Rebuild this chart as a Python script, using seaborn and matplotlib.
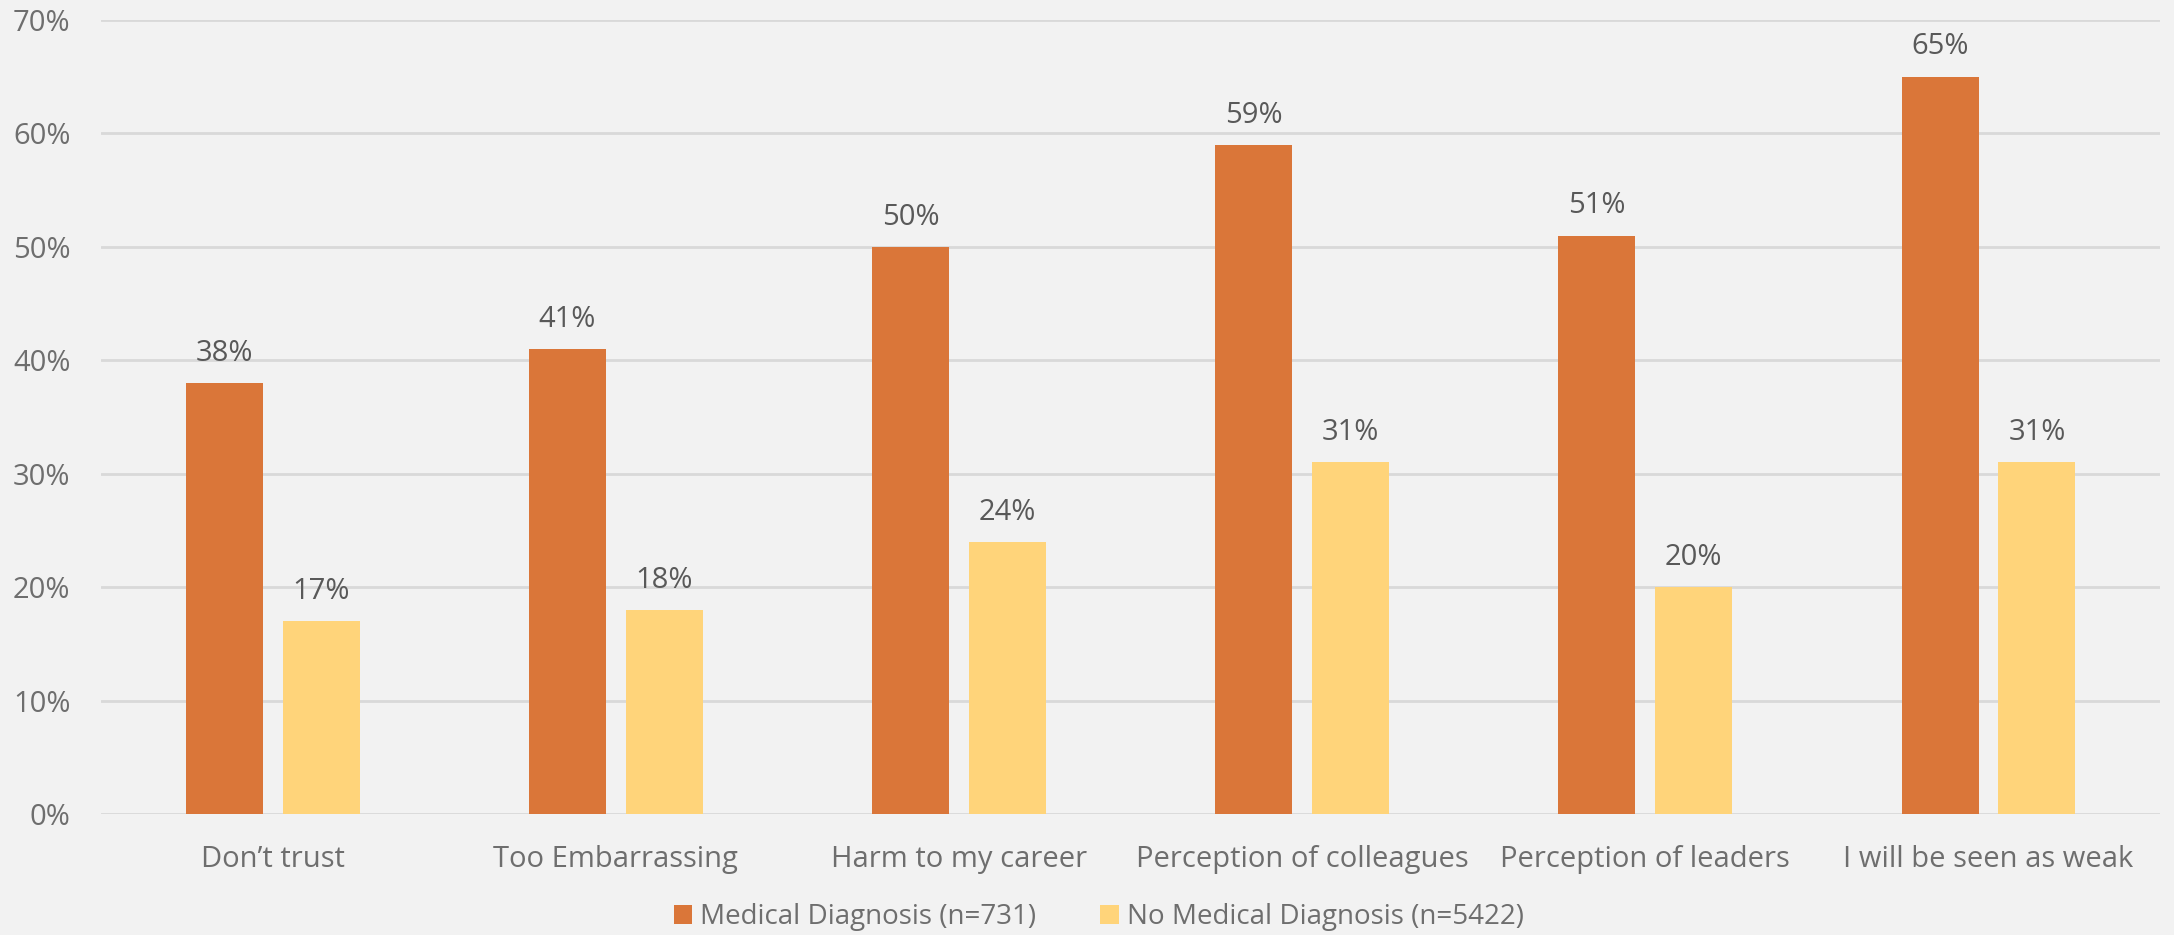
import matplotlib
matplotlib.use("Agg")
import matplotlib.pyplot as plt
import seaborn as sns
import pandas as pd
from matplotlib.ticker import MultipleLocator, FuncFormatter

categories = ["Don\u2019t trust", "Too Embarrassing", "Harm to my career",
              "Perception of colleagues", "Perception of leaders", "I will be seen as weak"]
medical = [38, 41, 50, 59, 51, 65]
no_medical = [17, 18, 24, 31, 20, 31]
series_names = ["Medical Diagnosis (n=731)", "No Medical Diagnosis (n=5422)"]
colors = ["#DA7639", "#FFD47A"]

df = pd.DataFrame({
    "category": categories * 2,
    "value": medical + no_medical,
    "series": [series_names[0]] * len(categories) + [series_names[1]] * len(categories),
})

sns.set_theme(style="white")
plt.rcParams["font.family"] = ["Open Sans", "DejaVu Sans"]

fig = plt.figure(figsize=(21.74, 9.35), dpi=100, facecolor="#F2F2F2")
ax = fig.add_axes([0.0465, 0.1294, 0.9471, 0.8492])
ax.set_facecolor("#F2F2F2")

sns.barplot(data=df, x="category", y="value", hue="series", palette=colors,
            width=0.565, gap=0.206, ax=ax, errorbar=None, saturation=1,
            order=categories, hue_order=series_names, linewidth=0)

for c in ax.containers:
    ax.bar_label(c, labels=[f"{v:.0f}%" for v in c.datavalues], padding=11,
                 fontsize=21, color="#595959")

ax.set_ylim(0, 70)
ax.set_xlim(-0.5, len(categories) - 0.5)
ax.yaxis.set_major_locator(MultipleLocator(10))
ax.yaxis.set_major_formatter(FuncFormatter(lambda v, p: f"{v:.0f}%"))
ax.grid(axis="y", color="#D9D9D9", linewidth=2)
ax.set_axisbelow(True)
for s in ax.spines.values():
    s.set_visible(False)
ax.tick_params(axis="both", length=0, labelsize=21, colors="#6E6E6E")
ax.tick_params(axis="y", pad=22)
ax.tick_params(axis="x", pad=22.5)
ax.set_xlabel("")
ax.set_ylabel("")

ax.legend_.remove()
handles = ax.containers
leg = fig.legend(handles, series_names, loc="center", bbox_to_anchor=(0.5055, 0.019),
                 ncol=2, frameon=False, fontsize=20, labelcolor="#6E6E6E",
                 handlelength=0.65, handleheight=0.65, handletextpad=0.3,
                 columnspacing=2.3)

fig.savefig("out.png", dpi=100, facecolor="#F2F2F2")
